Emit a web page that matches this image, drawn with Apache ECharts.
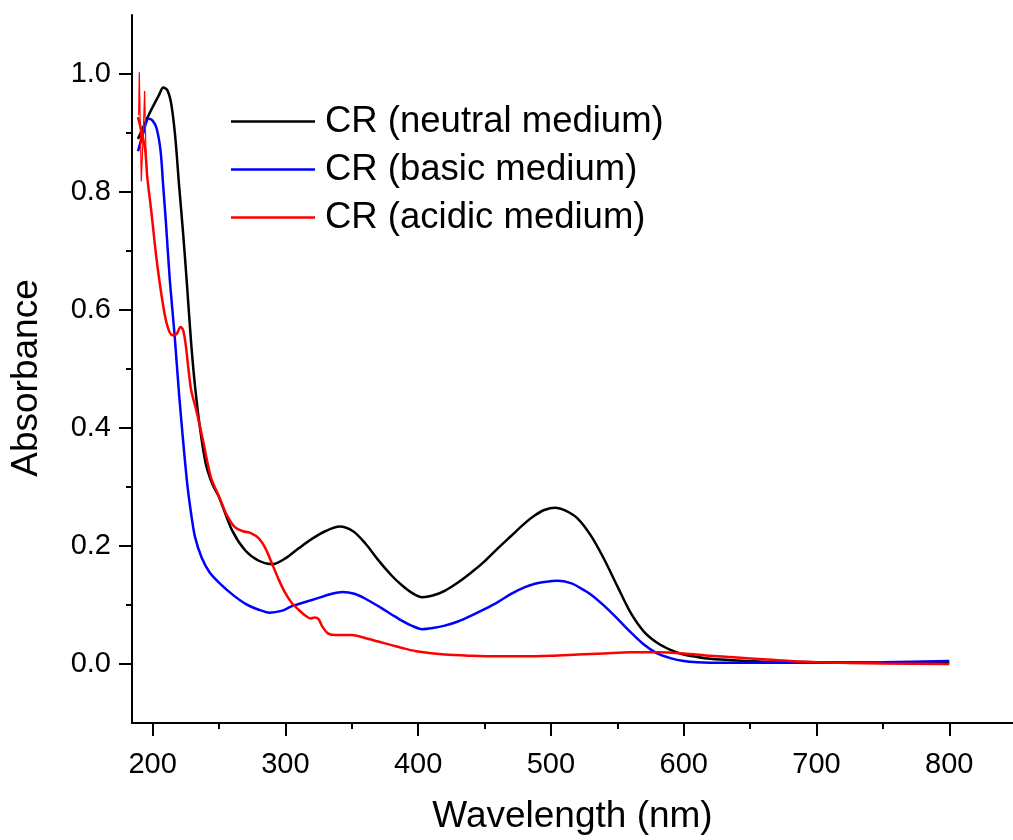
<!DOCTYPE html>
<html>
<head>
<meta charset="utf-8">
<script src="https://cdn.jsdelivr.net/npm/echarts@6/dist/echarts.min.js"></script>
<style>html,body{margin:0;padding:0;background:#fff}#c{width:1013px;height:840px}</style>
</head>
<body>
<div id="c"></div>
<script>
// Wavelength (nm) / absorbance pairs
const neutralWl = [189,193,197,201,205,208,211,214,217,220,223,226,229,232,236,240,245,250,260,270,280,290,300,310,320,330,341,351,360,370,380,388,395,403,411,420,430,440,450,460,470,480,488,495,503,511,520,530,540,550,560,570,580,590,600,610,620,640,660,700,750,800];
const neutralAbs = [0.890,0.910,0.930,0.948,0.965,0.977,0.973,0.950,0.895,0.810,0.730,0.640,0.545,0.470,0.395,0.340,0.305,0.283,0.226,0.192,0.175,0.169,0.179,0.196,0.212,0.225,0.233,0.225,0.205,0.176,0.150,0.133,0.121,0.113,0.116,0.124,0.138,0.155,0.174,0.196,0.217,0.238,0.252,0.261,0.265,0.260,0.247,0.218,0.178,0.132,0.087,0.055,0.036,0.024,0.016,0.012,0.009,0.006,0.004,0.003,0.002,0.002];

const basicWl = [189,193,197,200,203,206,208,210,213,216.6,220,225.6,229,232,237,243,250,260,270,280,288,297,305,315,325,335,343,352,360,370,380,388,395,403,411,420,430,440,450,460,470,480,488,495,505,515,522,530,540,550,560,570,580,590,600,610,630,700,750,800];
const basicAbs = [0.869,0.900,0.924,0.921,0.908,0.870,0.810,0.750,0.650,0.557,0.456,0.316,0.255,0.215,0.180,0.155,0.138,0.118,0.102,0.092,0.087,0.090,0.098,0.105,0.112,0.119,0.122,0.119,0.111,0.098,0.084,0.073,0.065,0.059,0.061,0.065,0.072,0.082,0.093,0.105,0.119,0.130,0.136,0.139,0.141,0.137,0.129,0.118,0.099,0.077,0.054,0.033,0.018,0.010,0.005,0.003,0.002,0.002,0.003,0.005];

const acidicWl = [189,192,194.5,196,199,203,207.5,211,215,218,221,223,225,227,229,233,237.6,244,250,256,262,268,274,280,285,290,295,300,305,310,315,319,322,325,328,332,338,350,360,370,380,390,400,420,440,460,480,500,520,540,560,580,600,620,640,660,680,700,750,800];
const acidicAbs = [0.927,0.900,0.870,0.825,0.768,0.686,0.614,0.574,0.557,0.559,0.571,0.566,0.540,0.500,0.465,0.429,0.383,0.316,0.284,0.252,0.232,0.225,0.222,0.213,0.196,0.170,0.143,0.120,0.103,0.092,0.082,0.077,0.079,0.076,0.063,0.052,0.049,0.049,0.044,0.038,0.032,0.026,0.021,0.016,0.014,0.013,0.013,0.014,0.016,0.018,0.020,0.020,0.018,0.014,0.011,0.008,0.005,0.003,0.001,0.000];

// thin noisy spikes at the start of the acidic trace
const acidicNoiseWl = [189.5,190,191.5,193,194,195,196];
const acidicNoiseAbs = [0.93,1.003,0.818,0.90,0.971,0.87,0.83];

const seriesNames = ['CR (neutral medium)','CR (basic medium)','CR (acidic medium)'];
const xMajorTicks = [200,300,400,500,600,700,800];
const xMinorTicks = [250,350,450,550,650,750];
const yMajorTicks = [0,0.2,0.4,0.6,0.8,1.0];
const yMinorTicks = [0.1,0.3,0.5,0.7,0.9];

const pair = (xs, ys) => xs.map((x, i) => [x, ys[i]]);
const FONT = 'Liberation Sans, Arial, sans-serif';
const X_MIN = 184.5, X_MAX = 848, Y_MIN = -0.1, Y_MAX = 1.1;

const chart = echarts.init(document.getElementById('c'), null, {renderer: 'canvas'});

function xAxisDef(major) {
  return {
    type: 'value', min: X_MIN, max: X_MAX, position: 'bottom',
    axisLine: {show: major, onZero: false, lineStyle: {color: '#000', width: 2}},
    axisTick: {show: true, inside: false, length: major ? 13 : 6, lineStyle: {color: '#000', width: 2},
      customValues: major ? xMajorTicks : xMinorTicks},
    axisLabel: {show: major, customValues: xMajorTicks, margin: 27, color: '#000', fontSize: 29, fontFamily: FONT},
    splitLine: {show: false},
    name: major ? 'Wavelength (nm)' : '', nameLocation: 'middle', nameGap: 75,
    nameTextStyle: {color: '#000', fontSize: 37, fontFamily: FONT}
  };
}
function yAxisDef(major) {
  return {
    type: 'value', min: Y_MIN, max: Y_MAX, position: 'left',
    axisLine: {show: major, onZero: false, lineStyle: {color: '#000', width: 2}},
    axisTick: {show: true, inside: false, length: major ? 13 : 6, lineStyle: {color: '#000', width: 2},
      customValues: major ? yMajorTicks : yMinorTicks},
    axisLabel: {show: major, customValues: yMajorTicks, margin: 21, color: '#000', fontSize: 29, fontFamily: FONT,
      formatter: v => v.toFixed(1)},
    splitLine: {show: false},
    name: major ? 'Absorbance' : '', nameLocation: 'middle', nameGap: 87, nameRotate: 90,
    nameTextStyle: {color: '#000', fontSize: 37, fontFamily: FONT, padding: [0, 18, 0, 0]}
  };
}

const lineSeries = (name, data, color, width) => ({
  name, type: 'line', data, showSymbol: false, symbol: 'none',
  smooth: 0.3,
  lineStyle: {color, width}, itemStyle: {color},
  xAxisIndex: 0, yAxisIndex: 0, z: 3, animation: false
});

chart.setOption({
  animation: false,
  backgroundColor: '#fff',
  grid: {left: 132, right: 0, top: 15, bottom: 113, containLabel: false},
  xAxis: [xAxisDef(true), xAxisDef(false)],
  yAxis: [yAxisDef(true), yAxisDef(false)],
  legend: {
    data: seriesNames, orient: 'vertical', left: 231, top: 103,
    itemWidth: 84, itemHeight: 12, itemGap: 11, icon: 'path://M0,0 L84,0 L84,2.6 L0,2.6 Z',
    textStyle: {color: '#000', fontSize: 36.5, fontFamily: FONT, padding: [0, 0, 0, 5]},
    padding: 0
  },
  series: [
    lineSeries(seriesNames[0], pair(neutralWl, neutralAbs), '#000000', 2.5),
    lineSeries(seriesNames[1], pair(basicWl, basicAbs), '#0000ff', 2.5),
    lineSeries(seriesNames[2], pair(acidicWl, acidicAbs), '#ff0000', 2.5),
    {name: 'acidic-noise', type: 'line', data: pair(acidicNoiseWl, acidicNoiseAbs), showSymbol: false, symbol: 'none',
     smooth: false, lineStyle: {color: '#ff0000', width: 1.2}, itemStyle: {color: '#ff0000'}, z: 3}
  ]
});
</script>
</body>
</html>
